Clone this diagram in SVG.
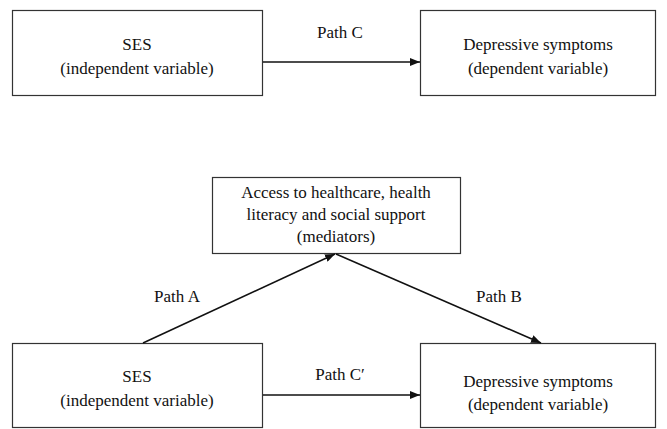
<svg xmlns="http://www.w3.org/2000/svg" width="667" height="429" viewBox="0 0 667 429">
<defs>
<marker id="ah" markerWidth="10" markerHeight="8" refX="10" refY="4" orient="auto" markerUnits="userSpaceOnUse">
<path d="M0,0 L10,4 L0,8 Z" fill="#111"/>
</marker>
<style>
.box{fill:#fff;stroke:#333;stroke-width:1.2}
.t{font-family:'Liberation Serif','Times New Roman','DejaVu Serif',serif;font-size:17px;fill:#111;text-anchor:middle}
.c{stroke:#111;stroke-width:1.6;fill:none;marker-end:url(#ah)}
</style>
</defs>
<rect width="667" height="429" fill="#fff"/>
<g id="ses_top">
<rect class="box" x="12.5" y="10.5" width="250" height="85"/>
<text class="t" x="137" y="50">SES</text>
<text class="t" x="137" y="74">(independent variable)</text>
</g>
<g id="dep_top">
<rect class="box" x="420.5" y="10.5" width="235" height="85"/>
<text class="t" x="538" y="50">Depressive symptoms</text>
<text class="t" x="538" y="74">(dependent variable)</text>
</g>
<g id="mediators">
<rect class="box" x="212.5" y="177.5" width="248" height="76"/>
<text class="t" x="336" y="198">Access to healthcare, health</text>
<text class="t" x="336" y="220">literacy and social support</text>
<text class="t" x="336" y="242">(mediators)</text>
</g>
<g id="ses_bottom">
<rect class="box" x="12.5" y="343.5" width="250" height="84"/>
<text class="t" x="137" y="382">SES</text>
<text class="t" x="137" y="406">(independent variable)</text>
</g>
<g id="dep_bottom">
<rect class="box" x="420.5" y="343.5" width="235" height="84"/>
<text class="t" x="538" y="387">Depressive symptoms</text>
<text class="t" x="538" y="410">(dependent variable)</text>
</g>
<g id="connectors">
<line class="c" x1="263" y1="62" x2="420" y2="62"/>
<line class="c" x1="143" y1="343" x2="335" y2="254"/>
<line class="c" x1="336" y1="254" x2="541" y2="343"/>
<line class="c" x1="263" y1="395" x2="420" y2="395"/>
<text class="t" x="340" y="38">Path C</text>
<text class="t" x="177" y="302">Path A</text>
<text class="t" x="499" y="302">Path B</text>
<text class="t" x="340" y="380">Path C′</text>
</g>
</svg>
